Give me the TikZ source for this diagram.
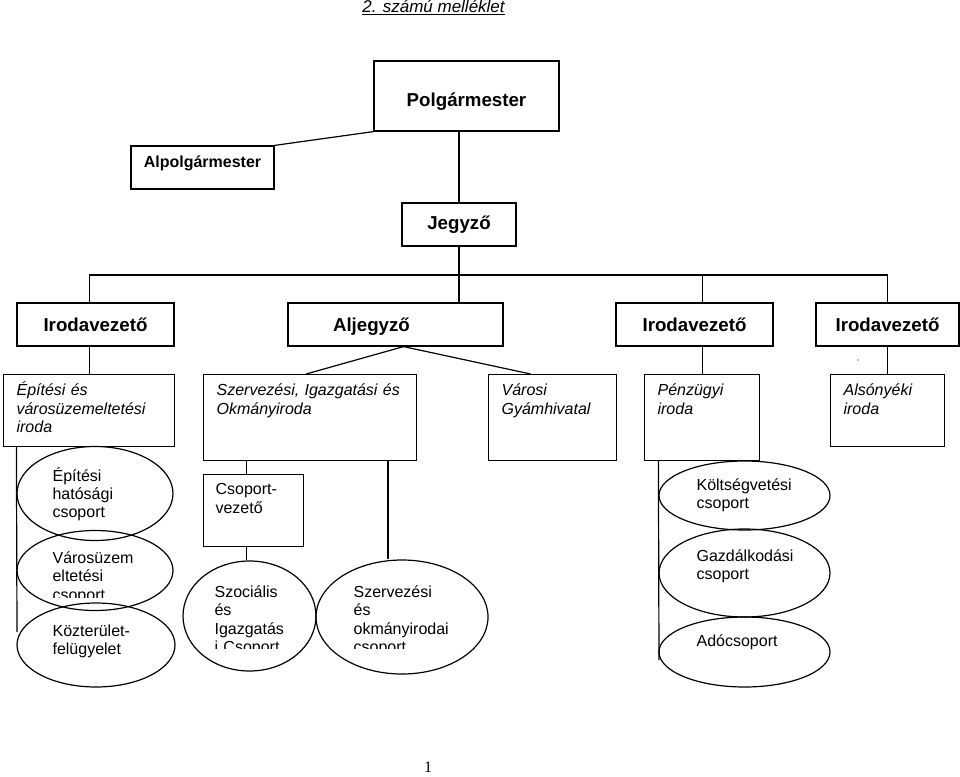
\documentclass[tikz,border=0pt]{standalone}
\usepackage{fontspec}
\setmainfont{Liberation Sans}
\newfontfamily\pagefont{Liberation Serif}
\usetikzlibrary{shapes.geometric}

\begin{document}
\begin{tikzpicture}[x=1pt,y=-1pt,line width=1.2pt,
	head/.style={draw,minimum height=43pt,inner sep=0pt,font=\fontsize{18.7}{22}\selectfont\bfseries},
	unitbox/.style={draw,anchor=north west,inner xsep=13pt,inner ysep=0pt,text height=21pt,align=left,font=\fontsize{16}{18.5}\selectfont\itshape},
	grp/.style={draw,ellipse,inner sep=0pt},
	grptxt/.style={anchor=base west,inner sep=0pt,text width=110pt,align=left,font=\fontsize{16}{18.4}\selectfont}]
	\useasboundingbox (0,0) rectangle (960,776);

	\node[font=\fontsize{17}{20}\selectfont\itshape,anchor=base] (cim) at (433.5,13) {\underline{2. számú melléklet}};

	% vezetes
	\node[head,minimum width=185pt,minimum height=70pt,text height=25pt,text depth=4pt] (polg) at (466.5,96) {Polgármester};
	\node[head,minimum width=143pt,text height=12pt,text depth=13pt,font=\fontsize{16}{19}\selectfont\bfseries] (alpolg) at (202.5,167.5) {Alpolgármester};
	\node[head,minimum width=114pt] (jegy) at (459,224.5) {Jegyző};

	\node[head,minimum width=157pt] (iv1) at (95.5,324.5) {Irodavezető};
	\node[head,minimum width=215pt,text depth=0pt] (aljegy) at (395.5,324.5) {\makebox[125pt][l]{Aljegyző}};
	\node[head,minimum width=157pt] (iv3) at (694.5,324.5) {Irodavezető};
	\node[head,minimum width=143pt] (iv4) at (887.5,324.5) {Irodavezető};

	% irodak
	\node[unitbox,text width=145pt,text depth=51pt] (epit) at (3,374) {Építési és\\városüzemeltetési\\iroda};
	\node[unitbox,text width=187pt,text depth=65pt] (szerv) at (203,374) {Szervezési, Igazgatási és\\Okmányiroda};
	\node[unitbox,text width=102pt,text depth=65pt] (gyam) at (488,374) {Városi\\Gyámhivatal};
	\node[unitbox,text width=89pt,text depth=65pt] (penz) at (644,374) {Pénzügyi\\iroda};
	\node[unitbox,text width=88pt,text depth=51pt] (alsony) at (830,374) {Alsónyéki\\iroda};
	\node[unitbox,font=\fontsize{16}{18.5}\selectfont,inner xsep=12pt,text height=20pt,text width=76pt,text depth=52pt] (csop) at (203,474) {Csoport-\\vezető};

	% csoportok
	\node[grp,minimum width=156pt,minimum height=94pt] (hat) at (95,493.5) {};
	\node[grp,minimum width=156pt,minimum height=80pt] (varos) at (95,570.5) {};
	\node[grp,minimum width=158pt,minimum height=84pt] (kozt) at (96,645) {};
	\node[grp,minimum width=133pt,minimum height=110pt] (szoc) at (249.5,616) {};
	\node[grp,minimum width=172pt,minimum height=114pt] (szcs) at (402,617) {};
	\node[grp,minimum width=171pt,minimum height=69pt] (kolt) at (744.5,495.5) {};
	\node[grp,minimum width=171pt,minimum height=88pt] (gazd) at (744.5,573) {};
	\node[grp,minimum width=171pt,minimum height=70pt] (ado) at (744.5,652) {};

	\node[grptxt] (hattxt) at (52,481) {Építési\\hatósági\\csoport};
	\begin{scope}
		\clip (0,0) rectangle (960,597);
		\node[grptxt] (varostxt) at (52,563.5) {Városüzem\\eltetési\\csoport};
	\end{scope}
	\node[grptxt] (kozttxt) at (52,636) {Közterület-\\felügyelet};
	\begin{scope}
		\clip (150,0) rectangle (500,648);
		\node[grptxt] (szoctxt) at (214,597.5) {Szociális\\és\\Igazgatás\\i Csoport};
		\node[grptxt] (szcstxt) at (353,597.5) {Szervezési\\és\\okmányirodai\\csoport};
	\end{scope}
	\node[grptxt] (kolttxt) at (696,490.5) {Költségvetési\\csoport};
	\node[grptxt] (gazdtxt) at (696,561.5) {Gazdálkodási\\csoport};
	\node[grptxt] (adotxt) at (696,646.5) {Adócsoport};

	% vonalak
	\coordinate (bar) at (459,275);
	\coordinate (bal) at (17,632);
	\coordinate (jobb) at (659,660);
	\draw (polg.south -| jegy.north) -- (jegy.north);
	\draw (alpolg.north east) -- (polg.south west);
	\draw (epit.north |- iv1.north) |- (bar) -| (alsony.north |- iv4.north);
	\draw (jegy.south) -- (aljegy.north -| jegy.south);
	\draw (penz.north |- bar) -- (penz.north |- iv3.north);
	\draw (iv1.south -| epit.north) -- (epit.north);
	\draw (iv3.south -| penz.north) -- (penz.north);
	\draw (iv4.south -| alsony.north) -- (alsony.north);
	\draw ([xshift=-4pt]szerv.north) -- ([xshift=8pt]aljegy.south) -- ([xshift=-22pt]gyam.north);
	\draw (epit.south -| hat.west) -- (bal);
	\draw ([xshift=-7pt]csop.north) -- ([xshift=-7pt]csop.north |- szerv.south);
	\draw ([xshift=-7pt]csop.south) -- ([xshift=-7pt]csop.south |- szoc.north);
	\draw ([xshift=-14pt]szcs.north) -- ([xshift=-14pt]szcs.north |- szerv.south);
	\draw (penz.south -| kolt.west) -- (jobb);
	\fill (858,360) circle (0.7pt);

	\node[font=\pagefont\fontsize{16}{19}\selectfont,anchor=base] (oldal) at (428,772.5) {1};
\end{tikzpicture}
\end{document}
